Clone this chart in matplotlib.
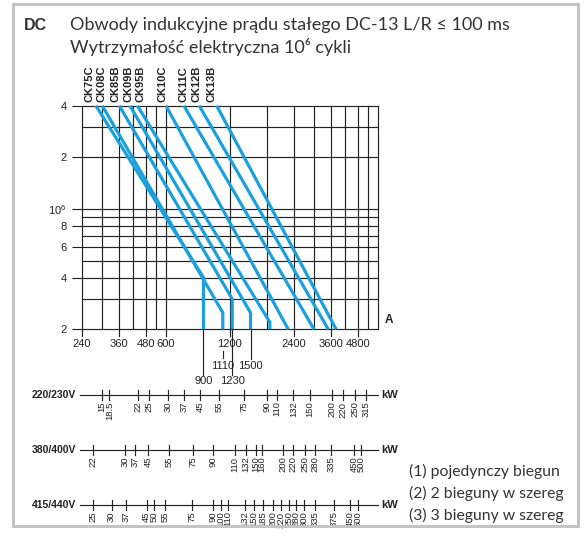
import matplotlib
matplotlib.use('Agg')
import matplotlib.pyplot as plt
from matplotlib import font_manager
from matplotlib.patches import Rectangle

W_PX, H_PX = 587, 537

# contactor curves: straight part from 4e6 cycles down to the knee, then vertical
models = ['CK75C', 'CK08C', 'CK85B', 'CK09B', 'CK95B', 'CK10C', 'CK11C', 'CK12B', 'CK13B']
start_amps = [280, 300, 361, 405, 439, 599, 728, 860, 1039]
knee_amps = [900, 1110, 1230, 1500, 1850, 2260, 2990, 3490, 3800]
knee_cycles = [4.0e5, 2.5e5, 3.0e5, 2.5e5, 2.2e5, 2.0e5, 2.0e5, 2.0e5, 2.0e5]

x_major = [240, 360, 480, 600, 1200, 2400, 3600, 4800]
x_extra = [900, 1110, 1230, 1500]
y_ticks = [2e5, 4e5, 6e5, 8e5, 1e6, 2e6, 4e6]
y_labels = ['2', '4', '6', '8', '10$^6$', '2', '4']

# kW scales: motor power and the current it sits at
kw_220 = ['15', '18.5', '22', '25', '30', '37', '45', '55', '75', '90', '110', '132',
          '150', '200', '220', '250', '315']
amps_220 = [298, 324, 444, 500, 615, 731, 867, 1069, 1402, 1800, 1993, 2387,
            2861, 3622, 4082, 4666, 5254]
kw_400 = ['22', '30', '37', '45', '55', '75', '90', '110', '132', '150', '160', '200',
          '220', '250', '280', '335', '450', '500']
amps_400 = [270, 384, 428, 495, 621, 801, 1001, 1268, 1424, 1587, 1694, 2141,
            2387, 2710, 3021, 3594, 4613, 4977]
kw_440 = ['25', '30', '37', '45', '50', '55', '75', '90', '100', '110', '132', '150',
          '185', '200', '220', '250', '280', '300', '335', '375', '450', '500']
amps_440 = [270, 332, 388, 486, 526, 593, 792, 1001, 1085, 1171, 1413, 1558,
            1723, 1909, 2082, 2286, 2458, 2681, 3021, 3725, 4418, 4836]

legend_lines = ['(1) pojedynczy biegun', '(2) 2 bieguny w szereg', '(3) 3 bieguny w szereg']

BLUE = '#1aa0dc'
INK = '#222222'

installed = {f.name for f in font_manager.fontManager.ttflist}
NARROW = 'Liberation Sans Narrow' if 'Liberation Sans Narrow' in installed else 'Liberation Sans'
KW_SIZE = 7.5 if NARROW == 'Liberation Sans Narrow' else 6.8
ROUND = ['Lato', 'DejaVu Sans']

plt.rcParams['font.family'] = ['Liberation Sans', 'DejaVu Sans']
plt.rcParams['mathtext.fontset'] = 'custom'
plt.rcParams['mathtext.rm'] = 'Liberation Sans'


def fx(x):
    return x / W_PX


def fy(y):
    return 1 - y / H_PX


fig = plt.figure(figsize=(W_PX / 100, H_PX / 100), dpi=100)

# frame
fig.patches.append(Rectangle((fx(13), fy(526)), fx(578) - fx(13), fy(4) - fy(526),
                             transform=fig.transFigure, fill=False,
                             edgecolor='#c4c4c4', linewidth=2.2))

# header
fig.text(fx(24), fy(25), 'DC', fontsize=11.5, fontweight='bold', color='#333333', va='center')
fig.text(fx(70), fy(25), 'Obwody indukcyjne prądu stałego DC-13 L/R ≤ 100 ms',
         fontsize=13, family=ROUND, color='#333333', va='center')
fig.text(fx(70), fy(47), 'Wytrzymałość elektryczna 10\u2076 cykli',
         fontsize=13, family=ROUND, color='#333333', va='center')

# main chart
left, right, top, bottom = 81.7, 378.2, 105.7, 329.3
ax = fig.add_axes([fx(left), fy(bottom), fx(right) - fx(left), fy(top) - fy(bottom)])
ax.set_xscale('log')
ax.set_yscale('log')
ax.set_xlim(240, 6000)
ax.set_ylim(2e5, 4e6)
for s in ax.spines.values():
    s.set_visible(False)

h_grid = [2e5, 3e5, 4e5, 5e5, 6e5, 7e5, 8e5, 9e5, 1e6, 2e6, 3e6, 4e6]
v_grid = [240, 300, 360, 420, 480, 540, 600, 1200, 1800, 2400, 3000, 3600, 4200, 4800, 5400, 6000]
for yv in h_grid:
    ax.axhline(yv, color=INK, lw=0.85, clip_on=False, zorder=1)
for xv in v_grid:
    ax.axvline(xv, color=INK, lw=0.85, clip_on=False, zorder=1)

ax.set_yticks(y_ticks)
ax.set_yticklabels(y_labels)
ax.yaxis.set_minor_locator(matplotlib.ticker.NullLocator())
ax.xaxis.set_minor_locator(matplotlib.ticker.NullLocator())
ax.set_xticks([])
ax.tick_params(axis='y', length=7.2, width=0.8, pad=3.5, labelsize=8, colors=INK)

for name, x0, xk, yk in zip(models, start_amps, knee_amps, knee_cycles):
    ax.plot([x0, xk, xk], [4e6, yk, 2e5], color=BLUE, lw=2.3,
            solid_capstyle='butt', solid_joinstyle='miter', clip_on=False, zorder=3)

label_nudge = [-4.5, -0.5, -2.5, -1.2, 2, -2.5, 0, -2, -3.6]   # points
for name, x0, dx in zip(models, start_amps, label_nudge):
    ax.annotate(name, (x0, 4e6), xytext=(dx, 3), textcoords='offset points',
                rotation=90, ha='center', va='bottom', fontsize=8, fontweight='bold',
                color=INK, annotation_clip=False)

ax.text(1.035, 0.04, 'A', transform=ax.transAxes, fontsize=8.5, fontweight='bold',
        color=INK, ha='center', va='center')

# lower band: x in amps, y in pixels from top
axk = fig.add_axes([fx(left), 0, fx(right) - fx(left), fy(bottom)])
axk.set_xscale('log')
axk.set_xlim(240, 6000)
axk.set_ylim(H_PX, bottom)
axk.axis('off')

for xv in x_major:
    axk.plot([xv, xv], [bottom, bottom + 6.5], color=INK, lw=0.85, clip_on=False)
    axk.text(xv, 344, f'{xv}', ha='center', va='center', fontsize=8, color=INK)

extra_span = [(bottom, 375), (351.5, 358), (bottom, 375), (bottom, 359)]
extra_label_y = [381, 366, 381, 366]
for xv, (y0, y1), ly in zip(x_extra, extra_span, extra_label_y):
    axk.plot([xv, xv], [y0, y1], color=INK, lw=0.85, clip_on=False)
    axk.text(xv, ly, f'{xv}', ha='center', va='center', fontsize=8, color=INK)

rows = [('220/230V', kw_220, amps_220, 395),
        ('380/400V', kw_400, amps_400, 450),
        ('415/440V', kw_440, amps_440, 505)]
for volt, kws, amps, yrow in rows:
    axk.plot([235, 6000], [yrow, yrow], color=INK, lw=0.85, clip_on=False)
    for k, a in zip(kws, amps):
        axk.plot([a, a], [yrow - 5, yrow + 5], color=INK, lw=0.85, clip_on=False)
        axk.text(a, yrow + 6.5, k, rotation=90, ha='center', va='top',
                 fontsize=KW_SIZE, family=NARROW, color=INK)
    fig.text(fx(76), fy(yrow), volt, ha='right', va='center', fontsize=7.5,
             fontweight='bold', color=INK)
    fig.text(fx(381), fy(yrow), 'kW', ha='left', va='center', fontsize=8,
             fontweight='bold', color=INK)

for i, line in enumerate(legend_lines):
    fig.text(fx(409), fy(471 + 22 * i), line, ha='left', va='center',
             fontsize=11.3, family=ROUND, color='#333333')

fig.savefig('out.png', dpi=100)
